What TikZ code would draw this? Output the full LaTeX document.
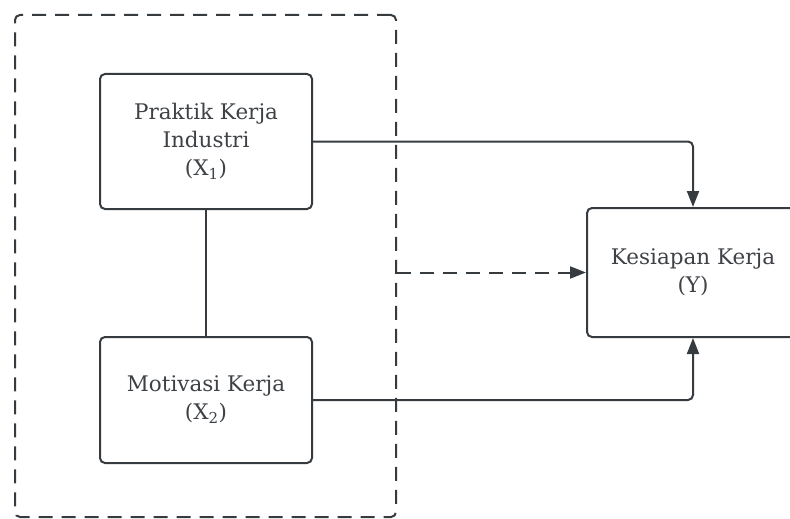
\documentclass[tikz,border=0pt]{standalone}
\usepackage{fontspec}
\setmainfont{DejaVu Serif}
\usetikzlibrary{arrows.meta,positioning}
\definecolor{linegray}{HTML}{363B40}
\definecolor{textgray}{HTML}{3E4246}
\begin{document}
\begin{tikzpicture}[
			x=1pt,y=-1pt,
			rect/.style={rectangle, draw=linegray, line width=2pt, rounded corners=5pt,
				minimum width=212pt, align=center, text=textgray,
				font=\fontsize{21.5}{28}\selectfont},
			conn/.style={draw=linegray, line width=2pt, rounded corners=5pt},
			tip/.style={-{Triangle[length=16pt,width=12pt]}},
			dashline/.style={dash pattern=on 14pt off 9pt}
			]
			
			\useasboundingbox (0,0) rectangle (790,519);
			\node[rect, dashline, draw, minimum width=381pt, minimum height=502pt] (grp) at (205.5,266) {};
			\node[rect, minimum height=135pt] (x1) at (206,141.5) {Praktik Kerja\\Industri\\(X\textsubscript{1})};
			\node[rect, minimum height=126pt] (x2) at (206,400) {Motivasi Kerja\\(X\textsubscript{2})};
			\node[rect, minimum height=129pt] (y) at (693,272.5) {Kesiapan Kerja\\(Y)};
			
			\draw[conn] (x1) -- (x2);
			\draw[conn, tip] (x1.east) -| (y.north);
			\draw[conn, tip] (x2.east) -| (y.south);
			\draw[conn, tip, dashline] (grp.east |- y.west) -- (y.west);
		\end{tikzpicture}
\end{document}
